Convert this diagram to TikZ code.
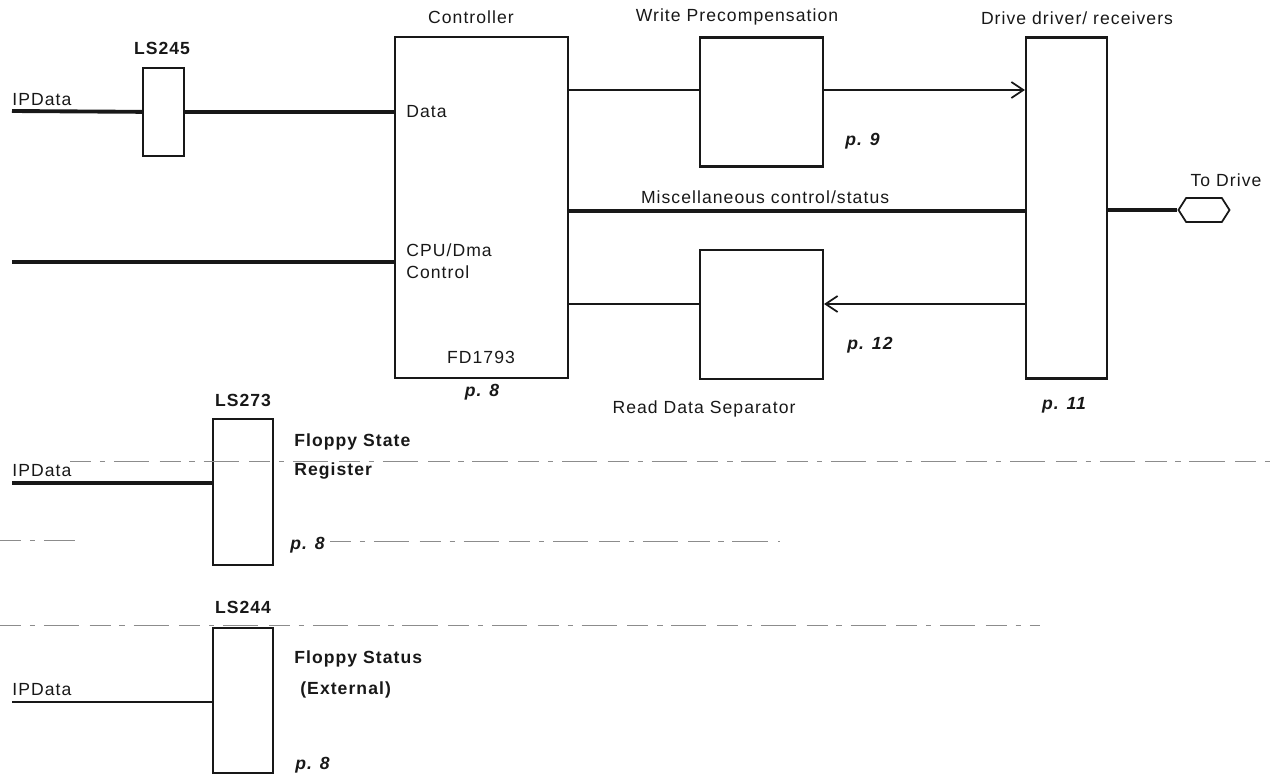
\documentclass[tikz,border=0pt]{standalone}
\usepackage{fontspec}
\setmainfont{Liberation Sans}[LetterSpace=6]
\usepackage{tikz}
\usetikzlibrary{positioning,arrows.meta,shapes.symbols}
\definecolor{dInk}{RGB}{24,24,24}
\definecolor{dScan}{RGB}{140,140,140}
\tikzset{
  chip/.style={rectangle, draw=dInk, line width=1.2pt, inner sep=0pt},
  bus/.style={draw=dInk, line width=2.2pt},
  sig/.style={draw=dInk, line width=1pt},
  sigarr/.style={sig, -{Straight Barb[length=2.4mm,width=3.2mm]}},
  lbl/.style={font=\fontsize{10}{12.5}\selectfont, text=dInk, inner sep=0pt},
  chipname/.style={lbl, font=\fontsize{10}{12.5}\selectfont\bfseries},
  pref/.style={lbl, font=\fontsize{10}{12.5}\selectfont\bfseries\itshape},
  plugshape/.style={signal, signal to=west and east, signal pointer angle=115,
                    draw=dInk, line width=1pt, minimum width=10.2mm,
                    minimum height=4.8mm, inner sep=0pt},
  scanline/.style={draw=dScan, line width=0.5pt,
                   dash pattern=on 12pt off 5pt on 3pt off 5pt on 20pt off 6pt},
}

\begin{document}
\begin{tikzpicture}[x=0.2mm, y=-0.2mm]
  \useasboundingbox (0,0) rectangle (1274,776);

  % --- upper row: controller path ---
  \node[chip, minimum width=8.2mm, minimum height=17.6mm] (ls245) at (163.5,112) {};
  \node[chip, minimum width=34.6mm, minimum height=68.2mm] (ctrl) at (481.5,207.5) {};
  \node[chip, minimum width=24.6mm, minimum height=25.8mm] (wpc) at (761.5,102) {};
  \node[chip, minimum width=24.6mm, minimum height=25.8mm] (rds) at (761.5,314.5) {};
  \node[chip, minimum width=16.2mm, minimum height=68.2mm] (drv) at (1066.5,208) {};
  \node[plugshape] (plug) at (1204,210) {};

  % --- titles ---
  \node[chipname] (ls245T) at (162,48) {LS245};
  \node[lbl] (ctrlT) at (471,17) {Controller};
  \node[lbl] (wpcT) at (737,17) {Write Precompensation};
  \node[lbl] (drvT) at (1077,18) {Drive driver/ receivers};
  \node[lbl] (plugT) at (1226,180) {To Drive};
  \node[lbl] (rdsT) at (704,409) {Read Data Separator};

  % --- controller inside ---
  \node[lbl, anchor=west] (dataT) at (406,112) {Data};
  \node[lbl, anchor=north west, align=left] (cpuT) at (406,243) {CPU/Dma\\Control};
  \node[lbl] (fdT) at (481,357) {FD1793};

  % --- page refs ---
  \node[pref] (pCtrl) at (482,392) {p. 8};
  \node[pref, anchor=west] (pWpc) at (845,141) {p. 9};
  \node[pref, anchor=west] (pRds) at (847,345) {p. 12};
  \node[pref] (pDrv) at (1064,405) {p. 11};

  % --- inputs ---
  \coordinate (in1) at (12,111);
  \coordinate (in2) at (12,262);
  \node[lbl, anchor=west] (in1T) at (12,100) {IPData};
  \draw[bus] (in1) -- (ls245);
  \draw[bus] (ls245) -- (ls245 -| ctrl.west);
  \draw[bus] (in2) -- (in2 -| ctrl.west);

  % --- write / misc / read paths ---
  \coordinate (wr) at (0,90);
  \coordinate (mc) at (0,211);
  \coordinate (rd) at (0,304);
  \draw[sig] (ctrl.east |- wr) -- (wpc.west |- wr);
  \draw[sigarr] (wpc.east |- wr) -- (drv.west |- wr);
  \draw[bus] (ctrl.east |- mc) -- node[lbl, above=1mm, pos=0.43]
    {Miscellaneous control/status} (drv.west |- mc);
  \draw[sigarr] (drv.west |- rd) -- (rds.east |- rd);
  \draw[sig] (rds.west |- rd) -- (ctrl.east |- rd);
  \draw[bus] (drv.east |- plug) -- (plug);

  % --- lower registers ---
  \node[chip, minimum width=12mm, minimum height=29.2mm] (ls273) at (243,492) {};
  \node[chip, minimum width=12mm, minimum height=29mm] (ls244) at (243,700.5) {};
  \node[chipname] (ls273T) at (243,400) {LS273};
  \node[chipname] (ls244T) at (243,607) {LS244};
  \node[chipname, anchor=west] (fstT) at (294,442) {Floppy State};
  \node[chipname, anchor=west] (regT) at (294,471) {Register};
  \node[chipname, anchor=west] (fsuT) at (294,659) {Floppy Status};
  \node[chipname, anchor=west] (extT) at (300,690) {(External)};
  \node[pref, anchor=west] (p273) at (290,545) {p. 8};
  \node[pref, anchor=west] (p244) at (295,765) {p. 8};
  \coordinate (in3) at (12,483);
  \coordinate (in4) at (12,702);
  \node[lbl, anchor=west] (in3T) at (12,471) {IPData};
  \node[lbl, anchor=west] (in4T) at (12,690) {IPData};
  \draw[bus] (in3) -- (in3 -| ls273.west);
  \draw[sig, line width=1.6pt] (in4) -- (in4 -| ls244.west);

  % --- faint rules left by the copy ---
  \draw[scanline] (70,461) -- (1274,461);
  \draw[scanline] (0,540) -- (75,540);
  \draw[scanline] (330,541) -- (780,541);
  \draw[scanline] (0,625) -- (1040,625);
\end{tikzpicture}
\end{document}
